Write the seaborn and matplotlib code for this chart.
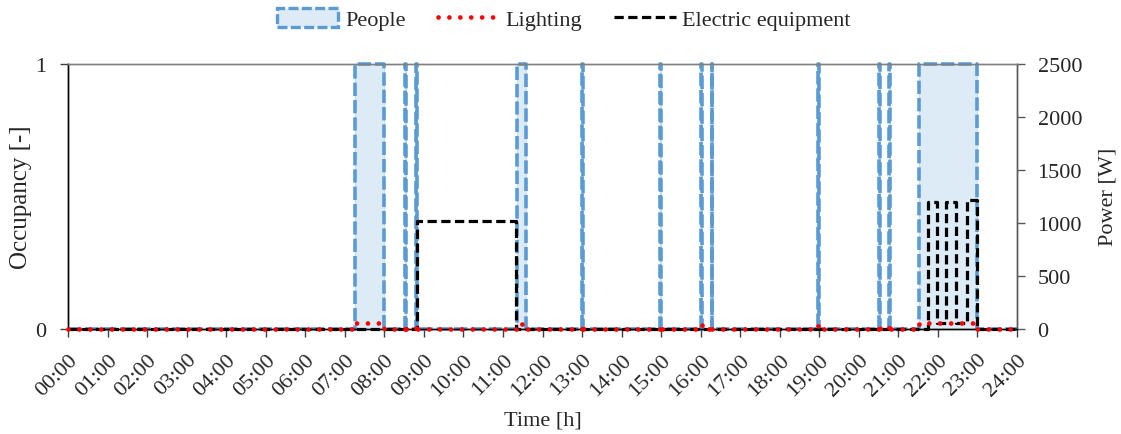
import numpy as np
import pandas as pd
import seaborn as sns
import matplotlib
matplotlib.use("Agg")
import matplotlib.pyplot as plt
from matplotlib.patches import Patch
from matplotlib.lines import Line2D

# ---- data (hours, step-post values) ----
people_t = [0, 7.25, 8.0, 8.53, 8.55, 8.80, 8.82, 11.35, 11.57, 13.0, 13.02,
            14.98, 15.0, 16.02, 16.04, 16.28, 16.30, 18.98, 19.0, 20.52, 20.54,
            20.77, 20.79, 21.52, 23.0, 24.0]
people_v = [0, 1, 0, 1, 0, 1, 0, 1, 0, 1, 0,
            1, 0, 1, 0, 1, 0, 1, 0, 1, 0,
            1, 0, 1, 0, 0]

light_t = [0, 7.25, 8.0, 8.53, 8.55, 8.80, 8.82, 11.35, 11.57, 13.0, 13.02,
           14.98, 15.0, 16.02, 16.04, 16.28, 16.30, 18.98, 19.0, 20.52, 20.54,
           20.77, 20.79, 21.52, 23.0, 24.0]
light_v = [0, 60, 0, 50, 0, 50, 0, 50, 0, 50, 0,
           35, 0, 35, 0, 35, 0, 40, 0, 50, 0,
           50, 0, 60, 0, 0]

equip_t = [0, 8.82, 11.33, 21.76, 21.97, 22.20, 22.47, 22.75, 23.0, 24.0]
equip_v = [0, 1020, 0, 1200, 60, 1200, 60, 1215, 0, 0]

hours = list(range(25))
hour_labels = [f"{h:02d}:00" for h in hours]
power_ticks = [0, 500, 1000, 1500, 2000, 2500]
occ_ticks = [0, 1]

people_df = pd.DataFrame({"t": people_t, "v": people_v})
light_df = pd.DataFrame({"t": light_t, "v": light_v})
equip_df = pd.DataFrame({"t": equip_t, "v": equip_v})

# ---- style ----
sns.set_theme(style="white")
plt.rcParams["font.family"] = ["Liberation Serif", "DejaVu Serif"]

BLUE = "#5B9BD5"
FILL = "#DDEBF7"

fig = plt.figure(figsize=(11.21, 4.35), dpi=100)
ax = fig.add_axes([0.0609, 0.2414, 0.907 - 0.0609, 0.8513 - 0.2414])
ax2 = ax.twinx()

# people (left axis)
ax.fill_between(people_df["t"], people_df["v"], step="post", color=FILL, lw=0.8,
                edgecolor="#C9DDF0", zorder=1)
sns.lineplot(data=people_df, x="t", y="v", ax=ax, estimator=None, sort=False,
             drawstyle="steps-post", color=BLUE, lw=2.6, dashes=False,
             legend=False, zorder=2)
ax.lines[-1].set_dashes((3.7, 1.1))
ax.lines[-1].set_clip_on(False)

# equipment & lighting (right axis)
sns.lineplot(data=equip_df, x="t", y="v", ax=ax2, estimator=None, sort=False,
             drawstyle="steps-post", color="black", lw=2.3, dashes=False,
             legend=False, zorder=3)
ax2.lines[-1].set_dashes((2.9, 1.4))
ax2.lines[-1].set_clip_on(False)
sns.lineplot(data=light_df, x="t", y="v", ax=ax2, estimator=None, sort=False,
             drawstyle="steps-post", color="#FF0000", lw=3.4, dashes=False,
             legend=False, zorder=4)
ax2.lines[-1].set_dashes((0.01, 2.3))
ax2.lines[-1].set_dash_capstyle("round")
ax2.lines[-1].set_clip_on(False)

ax.set_xlim(0, 24)
ax.set_ylim(0, 1)
ax2.set_ylim(0, 2500)

ax.set_xticks(hours)
ax.set_xticklabels(hour_labels, rotation=45, ha="right", rotation_mode="anchor",
                   fontsize=16)
ax.set_yticks(occ_ticks)
ax.set_yticklabels([str(v) for v in occ_ticks], fontsize=16)
ax2.set_yticks(power_ticks)
ax2.set_yticklabels([str(v) for v in power_ticks], fontsize=16)

ax.tick_params(axis="x", direction="out", length=6, width=1, color="#404040",
               bottom=True, pad=9)
ax.tick_params(axis="y", direction="out", length=6, width=1, color="#404040",
               left=True, pad=10)
ax2.tick_params(axis="y", direction="out", length=6, width=1, color="#595959",
                right=True, pad=9)

ax.set_xlabel("Time [h]", fontsize=16, labelpad=8)
ax.set_ylabel("Occupancy [-]", fontsize=18, labelpad=2)
ax2.set_ylabel("Power [W]", fontsize=16, labelpad=12)

for a in (ax, ax2):
    for s in a.spines.values():
        s.set_linewidth(1.0)
    a.spines["top"].set_color("#808080")
    a.spines["left"].set_color("black")
    a.spines["bottom"].set_color("black")
    a.spines["right"].set_color("#595959")
    a.grid(False)
    a.set_facecolor("none")

handles = [
    Patch(facecolor=FILL, edgecolor=BLUE, linestyle=(0, (3, 1)), lw=2.4),
    Line2D([], [], color="#FF0000", lw=3.4, linestyle=(0, (0.01, 2.3)),
           dash_capstyle="round"),
    Line2D([], [], color="black", lw=2.3, linestyle=(0, (2.9, 1.4))),
]
fig.legend(handles, ["People", "Lighting", "Electric equipment"],
           loc="center", bbox_to_anchor=(564 / 1121, 1 - 20 / 435), ncol=3,
           frameon=False, fontsize=16, handlelength=2.75, handleheight=0.9,
           handletextpad=0.3, columnspacing=1.45, borderpad=0.1)

fig.savefig("out.png", dpi=100)
